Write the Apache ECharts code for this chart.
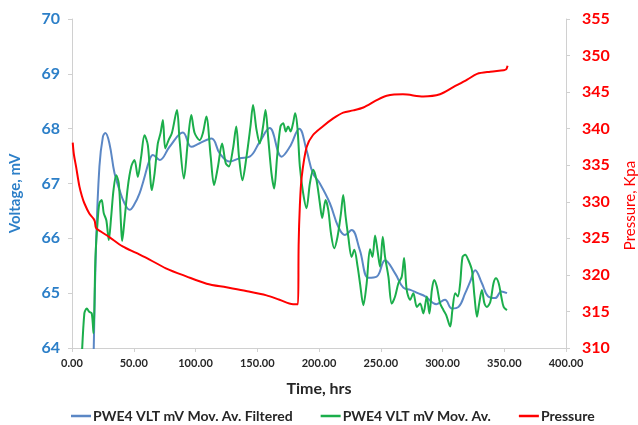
<!DOCTYPE html>
<html>
<head>
<meta charset="utf-8">
<script src="https://cdn.jsdelivr.net/npm/echarts@6/dist/echarts.min.js"></script>
<style>html,body{margin:0;padding:0;background:#fff;}#c{width:638px;height:425px;}</style>
</head>
<body>
<div id="c"></div>
<script>
// Time (hrs) and voltage for the filtered moving average
const filteredT = [17, 19.5, 22.2, 25, 27, 30.3, 34.4, 38.5, 42.5, 46.6, 50.5, 54.7, 58, 62.8, 65.5, 71, 79, 89.8, 96.6, 103, 113, 119.6, 127.7, 135.8, 143.9, 152, 160, 169.7, 176.4, 184, 190, 195, 200.7, 208.8, 215.6, 221, 226.4, 233, 240, 246.7, 253.5, 261.6, 268.3, 274, 280, 286, 295, 302, 307.6, 313, 318.4, 322.4, 326.5, 331.9, 337, 342.7, 347.6, 352.2];
const filteredV = [63.3, 65.91, 67.31, 67.85, 67.92, 67.73, 67.19, 66.88, 66.64, 66.52, 66.62, 66.82, 67.06, 67.43, 67.52, 67.43, 67.67, 67.93, 67.67, 67.73, 67.82, 67.55, 67.40, 67.46, 67.49, 67.76, 68.01, 67.49, 67.67, 68.0, 67.6, 67.19, 67.0, 66.64, 66.21, 66.06, 66.15, 65.79, 65.28, 65.3, 65.6, 65.36, 65.1, 65.06, 65.0, 64.94, 64.8, 64.88, 64.72, 64.75, 65.0, 65.21, 65.42, 65.18, 64.94, 64.91, 65.03, 65.0];

// Time (hrs) and voltage for the moving average
const movAvT = [7.5, 10, 12, 14, 16, 17.4, 19, 21, 22.2, 24, 25.7, 27.8, 29.8, 31.7, 33.6, 35.8, 37.9, 39.8, 40.6, 42.5, 45.2, 48, 50.6, 53.3, 56, 58.7, 61.4, 64.7, 66.9, 69.5, 71.7, 73.6, 75.5, 78.2, 80.9, 85, 87.1, 90.6, 93.9, 96.6, 99.3, 103.4, 106, 108.8, 112.3, 115, 118.2, 121.5, 124.5, 127, 130.4, 133, 135.2, 138, 141.3, 144.5, 146.6, 149.4, 152, 154.7, 156.7, 158.8, 161.5, 163.7, 166.1, 168.8, 171, 173.1, 175, 177, 179, 180.7, 182.6, 184.5, 187.2, 189.9, 192.6, 195.3, 198, 200.7, 202.6, 205.3, 207.5, 209.7, 212.3, 215, 217.8, 219.6, 221.6, 223.7, 226.4, 228.6, 231.3, 233.2, 235.9, 238.6, 241.3, 243.3, 245.4, 247.3, 249.4, 251.6, 253.5, 256.2, 258.9, 261.6, 264.3, 267, 268.9, 271, 273.8, 276.4, 279.2, 281.9, 284.5, 287.3, 289.4, 291.4, 293.2, 295.4, 298.1, 300.8, 303, 306.2, 308, 310.3, 312.4, 314.3, 316.2, 318.4, 321, 323.8, 325.9, 327.9, 329.7, 331.9, 334, 336, 338.7, 341.3, 343.3, 345.5, 347.6, 349.5, 352.2];
const movAvV = [63.6, 64.63, 64.72, 64.66, 64.63, 64.27, 65.66, 66.39, 66.64, 66.70, 66.46, 66.33, 65.97, 66.39, 66.88, 67.15, 67.00, 66.2, 65.95, 66.33, 66.94, 67.31, 67.43, 67.12, 67.49, 67.88, 67.70, 66.88, 67.19, 67.73, 67.92, 68.16, 67.64, 67.79, 67.92, 68.34, 67.79, 67.09, 67.79, 68.25, 67.92, 67.79, 67.92, 68.22, 67.49, 66.97, 67.31, 67.73, 67.37, 67.31, 67.64, 68.04, 67.49, 67.06, 67.49, 68.04, 68.43, 67.98, 67.73, 68.04, 68.34, 67.85, 67.19, 66.91, 67.49, 68.04, 68.10, 67.95, 68.04, 67.95, 68.10, 68.28, 68.0, 67.31, 66.82, 66.55, 67.0, 67.25, 67.06, 66.64, 66.37, 66.70, 66.52, 66.09, 65.82, 66.03, 66.46, 66.79, 66.39, 66.03, 65.66, 65.79, 65.48, 65.18, 64.78, 65.18, 65.8, 65.66, 66.05, 65.79, 65.48, 66.03, 65.66, 65.30, 64.81, 64.94, 65.18, 65.30, 65.64, 65.06, 64.88, 65.0, 64.75, 64.81, 64.63, 64.94, 64.63, 65.06, 65.24, 65.12, 64.81, 64.69, 64.6, 64.39, 64.69, 65.0, 64.94, 65.18, 65.66, 65.70, 65.60, 65.42, 64.94, 64.57, 64.81, 65.06, 64.81, 64.75, 64.84, 65.18, 65.27, 65.18, 64.94, 64.75, 64.69];

// Time (hrs) and pressure (Kpa)
const pressureT = [0.6, 1.5, 3.3, 6, 8, 10, 14, 17.4, 18.5, 19.5, 23.6, 30, 41, 52, 62.8, 76, 92.5, 109, 125, 141, 157.5, 168, 179, 183, 183.5, 184.5, 186, 190, 195, 203, 211.5, 219.6, 227.8, 235.9, 246.7, 254.8, 268, 284.5, 298, 309, 320, 328, 338.7, 349.5, 351.5, 352.7];
const pressureP = [338.1, 336.5, 334.8, 332.1, 330.8, 329.8, 328.4, 327.7, 327.3, 326.4, 325.9, 325.2, 323.9, 323.0, 322.1, 320.9, 319.8, 318.8, 318.3, 317.8, 317.2, 316.6, 316.0, 316.0, 324.0, 329.5, 333.4, 337.5, 339.1, 340.3, 341.4, 342.2, 342.5, 342.9, 343.9, 344.5, 344.7, 344.4, 344.7, 345.7, 346.7, 347.5, 347.8, 348.0, 348.1, 348.6];

const seriesNames = ['PWE4 VLT mV Mov. Av. Filtered', 'PWE4 VLT mV Mov. Av.', 'Pressure'];
const xTitle = 'Time, hrs';
const yLeftTitle = 'Voltage, mV';
const yRightTitle = 'Pressure, Kpa';

const zip = (a, b) => a.map((v, i) => [v, b[i]]);
const FONT = 'Lato';

const chart = echarts.init(document.getElementById('c'), null, {renderer: 'canvas'});
chart.setOption({
  animation: false,
  backgroundColor: '#ffffff',
  grid: {left: 72, right: 72, top: 19, bottom: 77, containLabel: false, outerBoundsMode: 'none'},
  legend: {
    top: 409, left: 71, itemGap: 28, itemWidth: 20, itemHeight: 2.5, icon: 'rect', padding: 0,
    textStyle: {fontFamily: FONT, fontSize: 14, fontWeight: 'bold', color: '#262626', padding: [0, 0, 0, -3]},
    data: seriesNames
  },
  xAxis: {
    type: 'value', min: 0, max: 400, interval: 50,
    name: xTitle, nameLocation: 'middle', nameGap: 33,
    nameTextStyle: {fontFamily: FONT, fontSize: 16, fontWeight: 'bold', color: '#262626'},
    axisLine: {lineStyle: {color: '#d0d0d0', width: 1}},
    axisTick: {show: true, length: 4, lineStyle: {color: '#d0d0d0'}},
    axisLabel: {fontFamily: FONT, fontSize: 11, fontWeight: 'bold', color: '#262626', margin: 10,
      formatter: v => v.toFixed(2)},
    splitLine: {show: false}
  },
  yAxis: [{
    type: 'value', min: 64, max: 70, interval: 1, position: 'left',
    name: yLeftTitle, nameLocation: 'middle', nameGap: 49, nameRotate: 90,
    nameTextStyle: {fontFamily: FONT, fontSize: 15, fontWeight: 'bold', color: '#2C7FC8', padding: [0, 20, 0, 0]},
    axisLine: {show: true, lineStyle: {color: '#d0d0d0', width: 1}},
    axisTick: {show: true, length: 4, lineStyle: {color: '#d0d0d0'}},
    axisLabel: {fontFamily: FONT, fontSize: 16, fontWeight: 'bold', color: '#2C7FC8', margin: 12},
    splitLine: {show: false}
  }, {
    type: 'value', min: 310, max: 355, interval: 5, position: 'right',
    name: yRightTitle, nameLocation: 'middle', nameGap: 57, nameRotate: 90,
    nameTextStyle: {fontFamily: FONT, fontSize: 15, color: '#ff0000', padding: [0, 44, 0, 0]},
    axisLine: {show: true, lineStyle: {color: '#d0d0d0', width: 1}},
    axisTick: {show: true, length: 4, lineStyle: {color: '#d0d0d0'}},
    axisLabel: {fontFamily: FONT, fontSize: 16, fontWeight: 'bold', color: '#ff0000', margin: 16},
    splitLine: {show: false}
  }],
  series: [{
    name: seriesNames[0], type: 'line', yAxisIndex: 0, symbol: 'none', smooth: 0.4,
    lineStyle: {color: '#5B87C5', width: 2}, itemStyle: {color: '#5B87C5'},
    data: zip(filteredT, filteredV), clip: true
  }, {
    name: seriesNames[1], type: 'line', yAxisIndex: 0, symbol: 'none', smooth: 0.3,
    lineStyle: {color: '#1BAE4B', width: 2}, itemStyle: {color: '#1BAE4B'},
    data: zip(movAvT, movAvV), clip: true
  }, {
    name: seriesNames[2], type: 'line', yAxisIndex: 1, symbol: 'none', smooth: 0.3,
    lineStyle: {color: '#ff0000', width: 2}, itemStyle: {color: '#ff0000'},
    data: zip(pressureT, pressureP), clip: true
  }]
});
</script>
</body>
</html>
